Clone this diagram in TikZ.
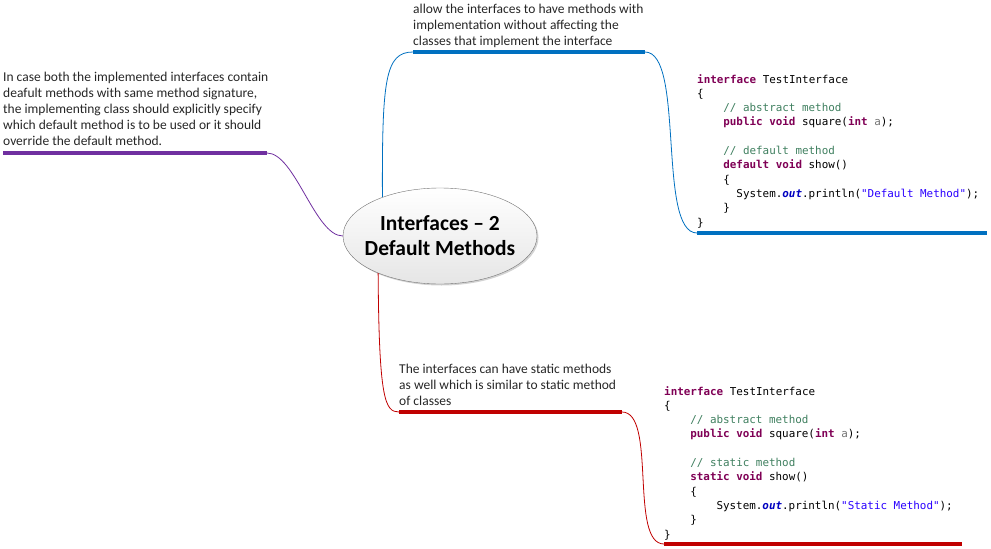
\documentclass[tikz,border=0pt]{standalone}
\usepackage{fontspec}
\usepackage{color}
\setmainfont{Carlito}
\setmonofont{DejaVu Sans Mono}
\usetikzlibrary{shapes.geometric,shadows}

\definecolor{topicblue}{HTML}{0070C0}
\definecolor{topicred}{HTML}{C00000}
\definecolor{topicpurple}{HTML}{7030A0}
\definecolor{kwcol}{HTML}{7F0055}
\definecolor{cmtcol}{HTML}{3F7F5F}
\definecolor{strcol}{HTML}{2A00FF}
\definecolor{fldcol}{HTML}{0000C0}
\newcommand\kw[1]{\textbf{\color{kwcol}#1}}
\newcommand\cmt[1]{{\color{cmtcol}#1}}
\newcommand\jstr[1]{{\color{strcol}#1}}
\newcommand\fld[1]{\textbf{\textit{\color{fldcol}#1}}}
\newcommand\prm[1]{{\color{black!55}#1}}

\begin{document}
\begin{tikzpicture}[x=1pt,y=-1pt,
	note/.style={anchor=base west,inner sep=0pt,align=left,text=black!85,font=\fontsize{13.5}{16}\selectfont},
	code/.style={anchor=base west,inner sep=0pt,align=left,font=\ttfamily\fontsize{10.9}{14.3}\selectfont},
	twig/.style={line width=0.8pt},
	bar/.style={line width=4pt}]
			\useasboundingbox (0,0) rectangle (991,549);
			% centre
			\node [ellipse,draw=black!55,top color=white,bottom color=black!10,drop shadow={shadow xshift=1.5pt,shadow yshift=-1.5pt,opacity=0.35},minimum width=194pt,minimum height=96pt] (hub) at (440,236) {};
			\node [font=\bfseries\fontsize{21.5}{25}\selectfont,align=center] (title) at (hub) {Interfaces -- 2\\Default Methods};
			% left branch
			\coordinate (clash-a) at (3,153);
			\coordinate (clash-b) at (267,153);
			\node [note] (clash) at (3,145.5) {In case both the implemented interfaces contain\\deafult methods with same method signature,\\the implementing class should explicitly specify\\which default method is to be used or it should\\override the default method.};
			\draw [bar,topicpurple] (clash-a) -- (clash-b);
			\draw [twig,topicpurple] (clash-b) .. controls (295,153) and (315,236) .. (hub.west);
			% top branch
			\coordinate (why-a) at (413,52);
			\coordinate (why-b) at (645,52);
			\node [note] (why) at (413,45.5) {allow the interfaces to have methods with\\implementation without affecting the\\classes that implement the interface};
			\draw [bar,topicblue] (why-a) -- (why-b);
			\draw [twig,topicblue] (hub.146) .. controls (382,80) and (385,52) .. (why-a);
			\coordinate (dflt-a) at (697,233);
			\coordinate (dflt-b) at (987,233);
			\node [code] (dflt) at (697,226) {\kw{interface} TestInterface\\
				\{\\
				\hspace*{2.4em}\cmt{// abstract method}\\
				\hspace*{2.4em}\kw{public} \kw{void} square(\kw{int} \prm{a});\\
				\mbox{}\\
				\hspace*{2.4em}\cmt{// default method}\\
				\hspace*{2.4em}\kw{default} \kw{void} show()\\
				\hspace*{2.4em}\{\\
				\hspace*{3.6em}System.\fld{out}.println(\jstr{"Default Method"});\\
				\hspace*{2.4em}\}\\
				\}};
			\draw [bar,topicblue] (dflt-a) -- (dflt-b);
			\draw [twig,topicblue] (why-b) .. controls (685,52) and (657,233) .. (dflt-a);
			% bottom branch
			\coordinate (stat-a) at (399,412);
			\coordinate (stat-b) at (622,412);
			\node [note] (stat) at (399,405.5) {The interfaces can have static methods\\as well which is similar to static method\\of classes};
			\draw [bar,topicred] (stat-a) -- (stat-b);
			\draw [twig,topicred] (hub.211) .. controls (379,400) and (385,412) .. (stat-a);
			\coordinate (scode-a) at (664,544);
			\coordinate (scode-b) at (962,544);
			\node [code] (scode) at (664,538) {\kw{interface} TestInterface\\
				\{\\
				\hspace*{2.4em}\cmt{// abstract method}\\
				\hspace*{2.4em}\kw{public} \kw{void} square(\kw{int} \prm{a});\\
				\mbox{}\\
				\hspace*{2.4em}\cmt{// static method}\\
				\hspace*{2.4em}\kw{static} \kw{void} show()\\
				\hspace*{2.4em}\{\\
				\hspace*{4.8em}System.\fld{out}.println(\jstr{"Static Method"});\\
				\hspace*{2.4em}\}\\
				\}};
			\draw [bar,topicred] (scode-a) -- (scode-b);
			\draw [twig,topicred] (stat-b) .. controls (657,412) and (629,544) .. (scode-a);
\end{tikzpicture}
\end{document}
